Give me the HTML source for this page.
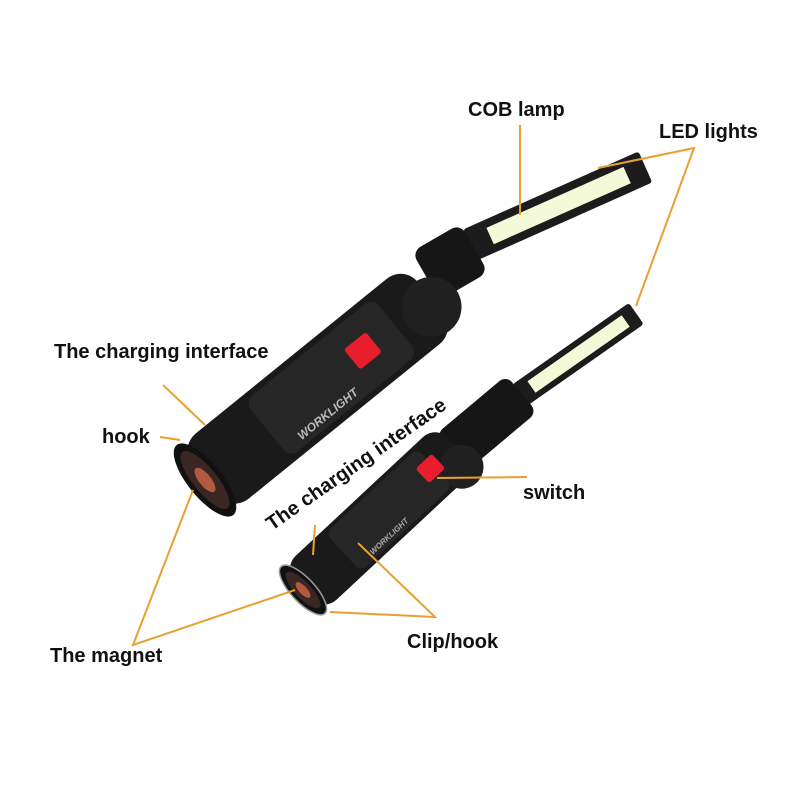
<!DOCTYPE html>
<html><head><style>body{margin:0;background:#fff}svg{display:block}</style></head><body>
<svg width="800" height="800" xmlns="http://www.w3.org/2000/svg" font-family="Liberation Sans, sans-serif" font-weight="bold">
<rect width="800" height="800" fill="#fff"/>
<!-- top light bar -->
<g transform="translate(470,245) rotate(-24)">
<rect x="0" y="-17" width="192" height="34" rx="3" fill="#1c1c1c"/>
<rect x="22" y="-9" width="150" height="18" fill="#f4fad8"/>
</g>
<g transform="translate(450,262) rotate(-30)">
<rect x="-28" y="-28" width="56" height="56" rx="10" fill="#161616"/>
</g>
<!-- top body -->
<g transform="translate(205,480) rotate(-39)">
<rect x="0" y="-42" width="290" height="84" rx="22" fill="#1a1a1a"/>
<circle cx="285" cy="8" r="30" fill="#202020"/>
<rect x="80" y="-36" width="165" height="72" rx="10" fill="#262626"/>
<rect x="190" y="-14" width="28" height="26" rx="3" fill="#e81e2c"/>
<text x="100" y="30" font-size="12" fill="#bbb" font-style="italic">WORKLIGHT</text>
<ellipse cx="0" cy="0" rx="17" ry="45" fill="#111"/>
<ellipse cx="0" cy="0" rx="12" ry="36" fill="#3a2622"/>
<ellipse cx="0" cy="0" rx="6" ry="15" fill="#b05a40"/>
</g>
<!-- bottom light bar -->
<g transform="translate(520,395) rotate(-35)">
<rect x="0" y="-13" width="142" height="26" rx="3" fill="#1c1c1c"/>
<rect x="14" y="-7" width="115" height="14" fill="#f4fad8"/>
</g>
<g transform="translate(488,422) rotate(-40)">
<rect x="-48" y="-24" width="92" height="48" rx="9" fill="#161616"/>
</g>
<!-- bottom body -->
<g transform="translate(303,590) rotate(-43)">
<rect x="0" y="-30" width="210" height="60" rx="18" fill="#1a1a1a"/>
<circle cx="200" cy="18" r="22" fill="#202020"/>
<rect x="55" y="-26" width="125" height="52" rx="8" fill="#262626"/>
<rect x="165" y="-12" width="22" height="20" rx="3" fill="#e81e2c"/>
<text x="75" y="22" font-size="8" fill="#aaa" font-style="italic">WORKLIGHT</text>
<ellipse cx="0" cy="0" rx="12" ry="32" fill="#111" stroke="#999" stroke-width="1.5"/>
<ellipse cx="0" cy="0" rx="8" ry="24" fill="#3a2622"/>
<ellipse cx="0" cy="0" rx="4" ry="10" fill="#b05a40"/>
</g>
<!-- connectors -->
<g stroke="#e8a030" stroke-width="2" fill="none">
<line x1="520" y1="125" x2="520" y2="215"/>
<polyline points="598,168 694,148 636,306"/>
<line x1="163" y1="385" x2="205" y2="425"/>
<line x1="160" y1="437" x2="180" y2="440"/>
<polyline points="193,490 133,645 295,590"/>
<line x1="315" y1="525" x2="313" y2="555"/>
<line x1="437" y1="478" x2="527" y2="477"/>
<polyline points="358,543 435,617 330,612"/>
</g>
<!-- labels -->
<g font-size="20" fill="#111">
<text x="468" y="116">COB lamp</text>
<text x="659" y="138">LED lights</text>
<text x="54" y="358">The charging interface</text>
<text x="102" y="443">hook</text>
<text x="523" y="499">switch</text>
<text x="50" y="662">The magnet</text>
<text x="407" y="648">Clip/hook</text>
<text x="272" y="531" transform="rotate(-35 272 531)">The charging interface</text>
</g>
</svg>
</body></html>
